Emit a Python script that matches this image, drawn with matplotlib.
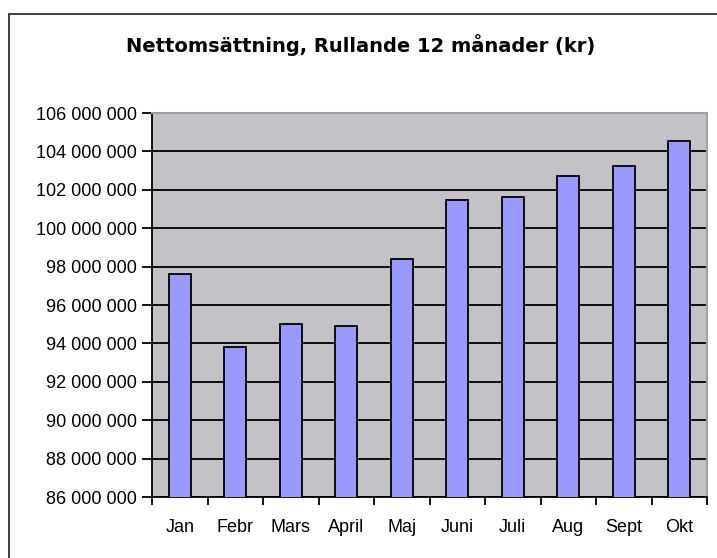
import numpy as np
import matplotlib
matplotlib.use("Agg")
import matplotlib.pyplot as plt
from matplotlib.patches import Rectangle
from matplotlib.ticker import FuncFormatter, MultipleLocator

# données
months = ["Jan", "Febr", "Mars", "April", "Maj", "Juni", "Juli", "Aug", "Sept", "Okt"]
omsattning = [97.6e6, 93.8e6, 95.0e6, 94.9e6, 98.4e6, 101.45e6, 101.65e6, 102.7e6, 103.25e6, 104.55e6]
y_min, y_max, y_step = 86e6, 106e6, 2e6

plt.rcParams['font.family'] = ['Liberation Sans', 'DejaVu Sans']

fig = plt.figure(figsize=(7.17, 5.58), dpi=100)
ax = fig.add_axes([152 / 717, 1 - 497 / 558, 555 / 717, 384 / 558])

# cadre extérieur (coupé à droite et en bas comme dans l'original)
fig.patches.append(Rectangle((9 / 717, -0.05), 1.0, 1 - 14 / 558 + 0.05,
                             transform=fig.transFigure, fill=False,
                             edgecolor='#303030', linewidth=1.3))

x = np.arange(len(months))
ax.set_facecolor('#C3C2C6')
ax.bar(x, omsattning, width=0.40, color='#9999FF', edgecolor='black',
       linewidth=1.3, zorder=3)

ax.set_xlim(-0.5, len(months) - 0.5)
ax.set_ylim(y_min, y_max)
ax.yaxis.set_major_locator(MultipleLocator(y_step))
ax.yaxis.set_major_formatter(FuncFormatter(lambda v, p: f"{v:,.0f}".replace(",", " ")))
ax.grid(axis='y', color='black', linewidth=1.3, zorder=1)
ax.set_axisbelow(True)

ax.set_xticks(x)
ax.set_xticklabels(months)
ax.set_xticks(np.arange(len(months) + 1) - 0.5, minor=True)
ax.tick_params(axis='x', which='major', length=0, pad=16, labelsize=13)
ax.tick_params(axis='x', which='minor', length=6, width=1.3, direction='out')
ax.tick_params(axis='y', length=7, width=1.3, direction='out', pad=4, labelsize=13)

for side in ['left', 'bottom']:
    ax.spines[side].set_color('black')
    ax.spines[side].set_linewidth(1.3)
for side in ['top', 'right']:
    ax.spines[side].set_color('#A0A0A0')
    ax.spines[side].set_linewidth(1.5)

fig.text(361 / 717, 1 - 45 / 558, "Nettomsättning, Rullande 12 månader (kr)",
         ha='center', va='center', fontsize=14, fontweight='bold',
         family=['DejaVu Sans'])

fig.savefig("out.png", dpi=100, facecolor='white')
